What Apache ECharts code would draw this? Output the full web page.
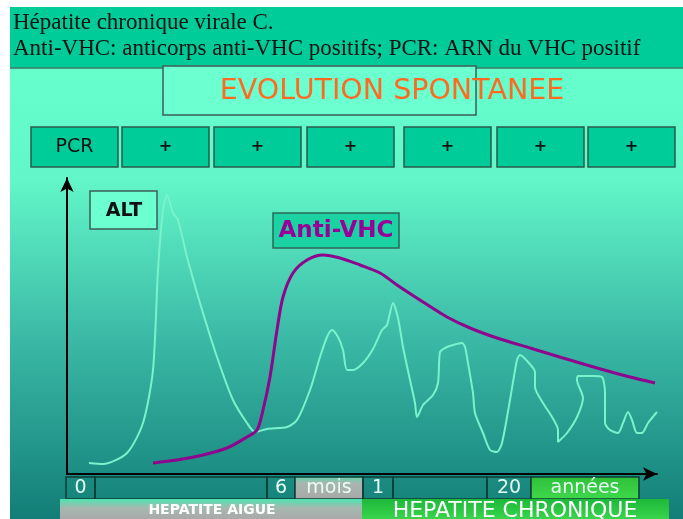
<!DOCTYPE html>
<html>
<head>
<meta charset="utf-8">
<script src="https://cdn.jsdelivr.net/npm/echarts@6/dist/echarts.min.js"></script>
<style>
  html, body { margin: 0; padding: 0; background: #fff; }
  #main { width: 683px; height: 519px; }
</style>
</head>
<body>
<div id="main"></div>
<script>
// ALT (transaminases) - [time, level], arbitrary units
var altPoints = [
  [22, 11], [36, 10], [60, 21], [76, 51], [86, 104], [91, 204], [96, 264], [100, 279],
  [106, 261], [111, 254], [120, 217], [133, 171], [150, 117], [166, 74], [180, 51],
  [188, 42], [200, 45], [220, 47], [230, 54], [243, 84], [253, 117], [260, 137],
  [265, 144], [271, 137], [276, 124], [280, 104], [286, 104], [296, 111], [306, 125],
  [315, 144], [320, 149], [326, 171], [331, 156], [336, 127], [343, 94], [348, 71],
  [350, 57], [356, 69], [366, 79], [371, 91], [373, 122], [378, 126], [386, 129],
  [395, 131], [398, 127], [401, 111], [406, 81], [408, 61], [416, 41], [423, 24],
  [430, 22], [435, 31], [443, 74], [450, 114], [453, 119], [461, 112], [468, 102],
  [468, 87], [476, 71], [485, 57], [491, 44], [491, 32], [500, 41], [510, 57],
  [516, 76], [510, 94], [511, 98], [526, 98], [535, 97], [538, 81], [538, 51],
  [543, 44], [551, 41], [556, 51], [561, 62], [565, 54], [570, 41], [575, 41],
  [581, 51], [590, 62]
];
// Anti-VHC antibodies
var antiPoints = [
  [86, 11], [110, 14], [136, 19], [160, 26], [180, 37], [190, 44], [196, 64],
  [203, 97], [210, 144], [216, 177], [226, 201], [240, 214], [256, 219], [273, 216],
  [293, 209], [313, 201], [330, 189], [356, 172], [380, 157], [403, 146], [430, 136],
  [463, 126], [496, 116], [530, 106], [563, 97], [588, 91]
];
var headerLines = ["Hépatite chronique virale C.",
  "Anti-VHC: anticorps anti-VHC positifs; PCR: ARN du VHC positif"];
var pcrLabels = ["PCR", "+", "+", "+", "+", "+", "+"];
var timeLabels = ["0", "", "6", "mois", "1", "", "20", "années"];
var phaseLabels = ["HEPATITE AIGUE", "HEPATITE CHRONIQUE"];

var chart = echarts.init(document.getElementById("main"));
var LG = echarts.graphic.LinearGradient;
var comic = "DejaVu Sans";

function rect(x, y, w, h, fill, stroke, lw, z) {
  return {
    type: "rect", z: z || 0, silent: true,
    shape: { x: x, y: y, width: w, height: h },
    style: { fill: fill, stroke: stroke || null, lineWidth: lw || 0 }
  };
}
function label(x, y, text, font, color, z) {
  return {
    type: "text", x: x, y: y, z: z || 1, silent: true,
    style: {
      text: text, font: font, fill: color,
      align: "center", verticalAlign: "middle",
      textAlign: "center", textVerticalAlign: "middle"
    }
  };
}

var els = [];
// background
els.push(rect(10, 68, 673, 451, new LG(0, 0, 0, 1, [
  { offset: 0, color: "#66FFCC" },
  { offset: 0.25, color: "#62F6C8" },
  { offset: 0.6, color: "#3BB9A6" },
  { offset: 1, color: "#127E77" }
]), null, 0, -5));
// header band
els.push(rect(10, 7, 673, 61, "#00CC99", null, 0, -4));
els.push({ type: "line", z: -3, silent: true, shape: { x1: 10, y1: 68, x2: 683, y2: 68 },
  style: { stroke: "#3E7A68", lineWidth: 1.5 } });
headerLines.forEach(function (t, i) {
  els.push({ type: "text", x: 13, y: 23 + i * 26, z: 1, silent: true,
    style: { text: t, font: "23px 'Liberation Serif'", fill: "#111",
      align: "left", verticalAlign: "middle", textAlign: "left", textVerticalAlign: "middle" } });
});

// EVOLUTION SPONTANEE
els.push(rect(163, 66, 313, 49, "#6CFFD0", "#3C5E56", 1.5));
els.push(label(392, 92, "EVOLUTION SPONTANEE", "28.5px '" + comic + "'", "#FF6A22"));

// PCR row
var pcrX = [31, 122, 214, 307, 404, 497, 588];
pcrLabels.forEach(function (t, i) {
  els.push(rect(pcrX[i], 127, 87, 40, "#00CC99", "#2A5A4C", 1.5));
  els.push(label(pcrX[i] + 43.5, 147, t, (i === 0 ? "19px '" : "bold 16px '") + comic + "'", "#111"));
});

// ALT / Anti-VHC tags
els.push(rect(90, 191, 67, 38, "#6CFFD0", "#3C5E56", 1.5, 3));
els.push(label(124, 211, "ALT", "bold 19px '" + comic + "'", "#111", 4));
els.push(rect(273, 213, 126, 35, "#1BD3A2", "#2F6658", 1.5, 3));
els.push(label(336, 231, "Anti-VHC", "bold 23px '" + comic + "'", "#990099", 4));

// time cells under the x axis
var cellX = [66, 95, 267, 295, 363, 393, 487, 531, 639];
var cellFill = [null, null, null, new LG(0, 0, 0, 1, [
    { offset: 0, color: "#5FD8AE" }, { offset: 0.3, color: "#A9B5AE" }, { offset: 1, color: "#A8A8A8" }]),
  null, null, null, new LG(0, 0, 0, 1, [
    { offset: 0, color: "#2FBF3A" }, { offset: 1, color: "#3FD94B" }])];
timeLabels.forEach(function (t, i) {
  var x0 = cellX[i], w = cellX[i + 1] - x0;
  els.push(rect(x0, 477, w, 22, cellFill[i] || "rgba(0,0,0,0)", "#0C3C35", 1.5, 2));
  if (t) els.push(label(x0 + w / 2, 488, t, "19px '" + comic + "'", "#E6FFF4", 3));
});

// phase bands
els.push(rect(60, 499, 302, 20, new LG(0, 0, 0, 1, [
  { offset: 0, color: "#4EE3B0" }, { offset: 0.45, color: "#A6B8B0" }, { offset: 1, color: "#A9A9A9" }]), null, 0, 2));
els.push(label(212, 510, phaseLabels[0], "bold 14px '" + comic + "'", "#FFFFFF", 3));
els.push(rect(362, 499, 307, 20, new LG(0, 0, 0, 1, [
  { offset: 0, color: "#1DB83A" }, { offset: 1, color: "#38D54C" }]), null, 0, 2));
els.push(label(515, 511, phaseLabels[1], "22px '" + comic + "'", "#FFFFFF", 3));

function axisOpt(max) {
  return {
    type: "value", min: 0, max: max,
    axisLine: { show: true, symbol: ["none", "arrow"], symbolSize: [10, 14],
      lineStyle: { color: "#000", width: 2 } },
    axisTick: { show: false }, axisLabel: { show: false }, splitLine: { show: false }
  };
}

chart.setOption({
  animation: false,
  grid: { left: 67, right: 26, top: 178, bottom: 45 },
  xAxis: axisOpt(590),
  yAxis: axisOpt(296),
  graphic: els,
  series: [
    { name: "ALT", type: "line", data: altPoints, showSymbol: false, smooth: 0.25,
      lineStyle: { color: "#7AF2CC", width: 2 }, z: 3 },
    { name: "Anti-VHC", type: "line", data: antiPoints, showSymbol: false, smooth: 0.3,
      lineStyle: { color: "#8E058E", width: 3 }, z: 4 }
  ]
});
</script>
</body>
</html>
